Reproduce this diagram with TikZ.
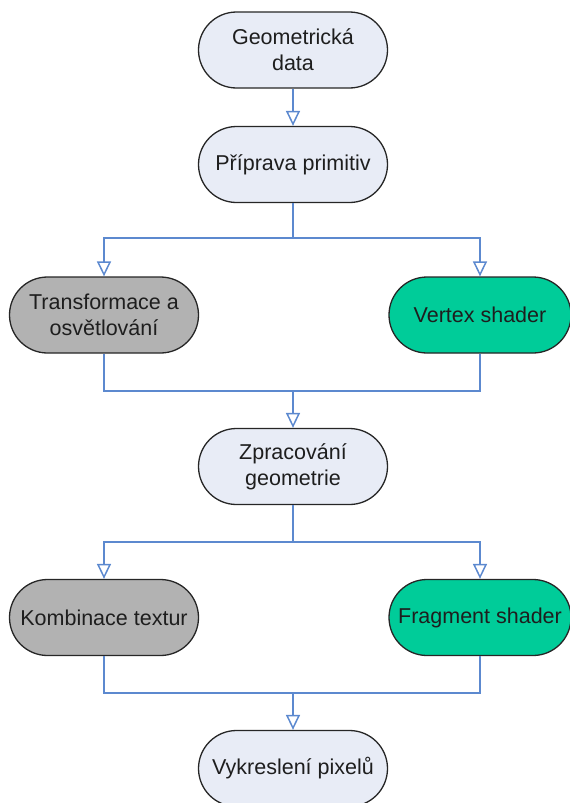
\documentclass[tikz,border=0pt]{standalone}
\usepackage{fontspec}
\setmainfont{Liberation Sans}
\usetikzlibrary{arrows.meta}
\definecolor{linkblue}{RGB}{92,137,207}
\definecolor{lightfill}{RGB}{232,236,246}
\definecolor{grayfill}{RGB}{178,178,178}
\definecolor{greenfill}{RGB}{0,204,153}
\definecolor{txt}{RGB}{30,30,30}
\tikzset{
  pill/.style={draw=black!85, line width=1.3pt, rounded corners=38pt,
    minimum width=189pt, minimum height=76pt, align=center, inner sep=2pt,
    text=txt, font=\fontsize{21.5}{26}\selectfont},
  lightpill/.style={pill, fill=lightfill},
  graypill/.style={pill, fill=grayfill},
  greenpill/.style={pill, fill=greenfill, minimum width=182pt},
  link/.style={draw=linkblue, line width=1.8pt},
  arrowlink/.style={link, -{Triangle[open, width=14pt, length=15pt, line width=1.5pt]}},
}
\begin{document}
\begin{tikzpicture}[x=1pt,y=-1pt]
\useasboundingbox (0,0) rectangle (570,803);
\node[lightpill] (n1) at (293,50) {Geometrická\\data};
\node[lightpill] (n2) at (293,164.5) {Příprava primitiv};
\node[graypill] (n3) at (104,315) {Transformace a\\osvětlování};
\node[greenpill] (n4) at (480,315) {Vertex shader};
\node[lightpill] (n5) at (293,466.5) {Zpracování\\geometrie};
\node[graypill] (n6) at (104,617.5) {Kombinace textur};
\node[greenpill] (n7) at (480,617.5) {Fragment shader};
\node[lightpill] (n8) at (293,768.5) {Vykreslení pixelů};
\coordinate (b1) at (293,238);
\coordinate (m1) at (293,391);
\coordinate (b2) at (293,542);
\coordinate (m2) at (293,693);
\draw[arrowlink] (n1.south) -- (n2.north);
\draw[link] (n2.south) -- (b1);
\draw[arrowlink] (b1) -| (n3.north);
\draw[arrowlink] (b1) -| (n4.north);
\draw[link] (n3.south) |- (m1);
\draw[link] (n4.south) |- (m1);
\draw[arrowlink] (m1) -- (n5.north);
\draw[link] (n5.south) -- (b2);
\draw[arrowlink] (b2) -| (n6.north);
\draw[arrowlink] (b2) -| (n7.north);
\draw[link] (n6.south) |- (m2);
\draw[link] (n7.south) |- (m2);
\draw[arrowlink] (m2) -- (n8.north);
\end{tikzpicture}
\end{document}
